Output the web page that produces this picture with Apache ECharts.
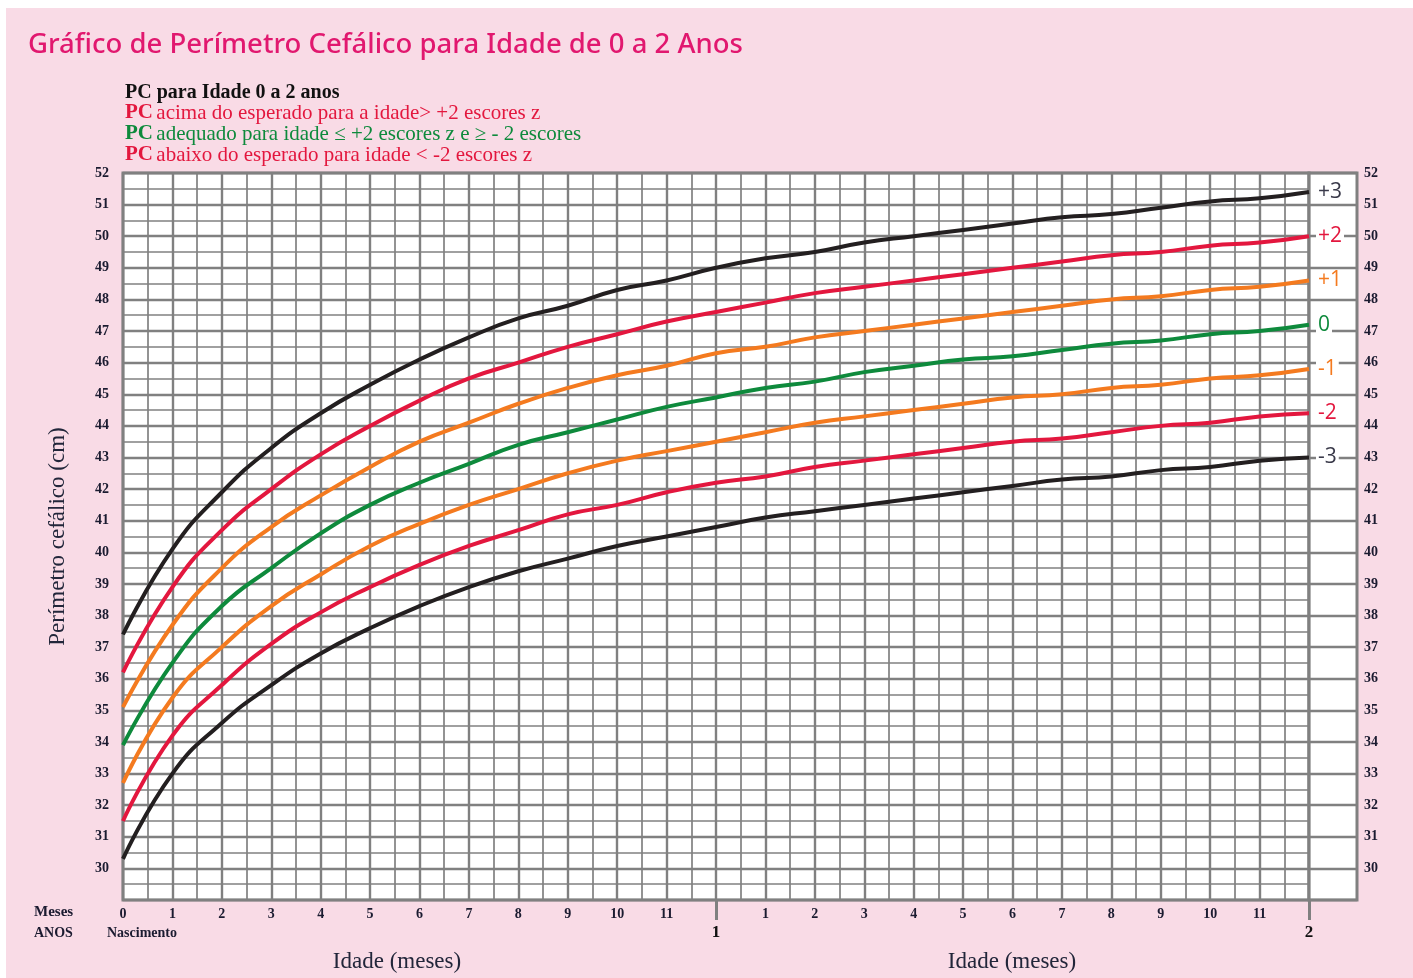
<!DOCTYPE html>
<html>
<head>
<meta charset="utf-8">
<script src="https://cdn.jsdelivr.net/npm/echarts@6/dist/echarts.min.js"></script>
<style>
  html, body { margin: 0; padding: 0; background: #fff; }
  #chart { width: 1413px; height: 978px; }
</style>
</head>
<body>
<div id="chart"></div>
<script>
// idade em meses (0 a 24)
let meses = [0, 1, 2, 3, 4, 5, 6, 7, 8, 9, 10, 11, 12, 13, 14, 15, 16, 17, 18, 19, 20, 21, 22, 23, 24];

// perímetro cefálico (cm) por escore z
let zMais3  = [37.4, 40.1, 41.9, 43.3, 44.4, 45.3, 46.1, 46.8, 47.4, 47.8, 48.3, 48.6, 49.0, 49.3, 49.5, 49.8, 50.0, 50.2, 50.4, 50.6, 50.7, 50.9, 51.1, 51.2, 51.4];
let zMais2  = [36.2, 38.9, 40.7, 42.0, 43.1, 44.0, 44.8, 45.5, 46.0, 46.5, 46.9, 47.3, 47.6, 47.9, 48.2, 48.4, 48.6, 48.8, 49.0, 49.2, 49.4, 49.5, 49.7, 49.8, 50.0];
let zMais1  = [35.1, 37.7, 39.5, 40.8, 41.8, 42.7, 43.5, 44.1, 44.7, 45.2, 45.6, 45.9, 46.3, 46.5, 46.8, 47.0, 47.2, 47.4, 47.6, 47.8, 48.0, 48.1, 48.3, 48.4, 48.6];
let zZero   = [33.9, 36.5, 38.3, 39.5, 40.6, 41.5, 42.2, 42.8, 43.4, 43.8, 44.2, 44.6, 44.9, 45.2, 45.4, 45.7, 45.9, 46.1, 46.2, 46.4, 46.6, 46.7, 46.9, 47.0, 47.2];
let zMenos1 = [32.7, 35.4, 37.0, 38.3, 39.3, 40.2, 40.9, 41.5, 42.0, 42.5, 42.9, 43.2, 43.5, 43.8, 44.1, 44.3, 44.5, 44.7, 44.9, 45.0, 45.2, 45.3, 45.5, 45.6, 45.8];
let zMenos2 = [31.5, 34.2, 35.8, 37.1, 38.1, 38.9, 39.6, 40.2, 40.7, 41.2, 41.5, 41.9, 42.2, 42.4, 42.7, 42.9, 43.1, 43.3, 43.5, 43.6, 43.8, 44.0, 44.1, 44.3, 44.4];
let zMenos3 = [30.3, 33.0, 34.6, 35.8, 36.8, 37.6, 38.3, 38.9, 39.4, 39.8, 40.2, 40.5, 40.8, 41.1, 41.3, 41.5, 41.7, 41.9, 42.1, 42.3, 42.4, 42.6, 42.7, 42.9, 43.0];

let curvas = [
    { nome: '+3', valores: zMais3, cor: '#231f20', corLabel: '#3a3a4a' },
    { nome: '+2', valores: zMais2, cor: '#e3173e', corLabel: '#e3173e' },
    { nome: '+1', valores: zMais1, cor: '#f47a1f', corLabel: '#f47a1f' },
    { nome: '0',  valores: zZero,  cor: '#0e8a3c', corLabel: '#0e8a3c' },
    { nome: '-1', valores: zMenos1, cor: '#f47a1f', corLabel: '#f47a1f' },
    { nome: '-2', valores: zMenos2, cor: '#e3173e', corLabel: '#e3173e' },
    { nome: '-3', valores: zMenos3, cor: '#231f20', corLabel: '#3a3a4a' }
];

let serif = '"Liberation Serif", "DejaVu Serif", serif';
let corTexto = '#1b1b30';
let corGrade = '#808080';

let myChart = echarts.init(document.getElementById('chart'));

let seriesObj = curvas.map(function (c) {
    return {
        name: c.nome,
        type: 'line',
        xAxisIndex: 0,
        yAxisIndex: 0,
        smooth: 0.5,
        symbol: 'none',
        silent: true,
        z: 5,
        lineStyle: { color: c.cor, width: 4 },
        endLabel: {
            show: true,
            formatter: c.nome,
            distance: 7,
            color: c.corLabel,
            fontFamily: '"Open Sans", sans-serif',
            fontSize: 21,
            backgroundColor: '#fff',
            padding: [0, 2]
        },
        data: meses.map(function (m, i) { return [m, c.valores[i]]; })
    };
});

function legenda(y, cor, texto) {
    return {
        type: 'text',
        x: 125,
        y: y,
        style: {
            text: '{p|PC} {t|' + texto + '}',
            verticalAlign: 'middle',
            rich: {
                p: { fontFamily: serif, fontSize: 21, fontWeight: 'bold', fill: cor },
                t: { fontFamily: serif, fontSize: 21, fill: cor }
            }
        }
    };
}

let option = {
    backgroundColor: 'transparent',
    animation: false,
    graphic: [
        { type: 'rect', z: -100, shape: { x: 6, y: 8, width: 1407, height: 970 }, style: { fill: '#f9dbe6' } },
        {
            type: 'text', x: 28, y: 45,
            style: { text: 'Gráfico de Perímetro Cefálico para Idade de 0 a 2 Anos', fill: '#e1186f',
                font: '500 27.5px "Noto Sans", sans-serif', verticalAlign: 'middle' }
        },
        {
            type: 'text', x: 125, y: 93,
            style: { text: 'PC para Idade 0 a 2 anos', fill: '#111', font: 'bold 20px ' + serif, verticalAlign: 'middle' }
        },
        legenda(113, '#e3173e', 'acima do esperado para a idade> +2 escores z'),
        legenda(134, '#0e8a3c', 'adequado para idade ≤ +2 escores z e ≥ - 2 escores'),
        legenda(155, '#e3173e', 'abaixo do esperado para idade < -2 escores z'),
        {
            type: 'text', x: 34, y: 912,
            style: { text: 'Meses', fill: corTexto, font: 'bold 15px ' + serif, verticalAlign: 'middle' }
        },
        {
            type: 'text', x: 34, y: 933,
            style: { text: 'ANOS', fill: corTexto, font: 'bold 14px ' + serif, verticalAlign: 'middle' }
        },
        {
            type: 'text', x: 107, y: 933,
            style: { text: 'Nascimento', fill: corTexto, font: 'bold 14px ' + serif, verticalAlign: 'middle' }
        },
        {
            type: 'text', x: 397, y: 962,
            style: { text: 'Idade (meses)', fill: '#22263a', font: '23px ' + serif, align: 'center', verticalAlign: 'middle' }
        },
        {
            type: 'text', x: 1012, y: 962,
            style: { text: 'Idade (meses)', fill: '#22263a', font: '23px ' + serif, align: 'center', verticalAlign: 'middle' }
        }
    ],
    grid: [
        { left: 123, top: 173, width: 1186, height: 727, show: true, backgroundColor: '#fff',
          borderColor: corGrade, borderWidth: 3 },
        { left: 1309, top: 173, width: 48, height: 727, show: true, backgroundColor: '#fff',
          borderColor: corGrade, borderWidth: 3 }
    ],
    xAxis: [
        {
            gridIndex: 0, type: 'value', min: 0, max: 24, interval: 1, position: 'bottom',
            axisLine: { show: false },
            axisTick: { show: false },
            minorTick: { show: true, splitNumber: 2, length: 0 },
            splitLine: { show: true, lineStyle: { color: corGrade, width: 2.4 } },
            minorSplitLine: { show: true, lineStyle: { color: corGrade, width: 1.7 } },
            axisLabel: {
                margin: 7, color: corTexto, fontFamily: serif, fontWeight: 'bold', fontSize: 14,
                formatter: function (v) { return (v === 12 || v === 24) ? '' : String(v % 12); }
            }
        },
        {
            gridIndex: 0, type: 'value', min: 0, max: 24, position: 'bottom',
            axisLine: { show: false },
            splitLine: { show: false },
            axisTick: { show: true, customValues: [12, 24], length: 20, lineStyle: { color: corGrade, width: 3 } },
            axisLabel: {
                customValues: [12, 24], margin: 24, color: '#111', fontFamily: serif, fontWeight: 'bold', fontSize: 17,
                formatter: function (v) { return String(v / 12); }
            }
        },
        { gridIndex: 1, type: 'value', min: 0, max: 1, show: false }
    ],
    yAxis: [
        {
            gridIndex: 0, type: 'value', min: 29, max: 52, interval: 1,
            name: 'Perímetro cefálico (cm)', nameLocation: 'middle', nameGap: 54,
            nameTextStyle: { fontFamily: serif, fontSize: 23, color: '#22263a' },
            axisLine: { show: false },
            axisTick: { show: false },
            minorTick: { show: true, splitNumber: 2, length: 0 },
            splitLine: { show: true, lineStyle: { color: corGrade, width: 2.4 } },
            minorSplitLine: { show: true, lineStyle: { color: corGrade, width: 1.7 } },
            axisLabel: {
                margin: 14, color: corTexto, fontFamily: serif, fontWeight: 'bold', fontSize: 14,
                formatter: function (v) { return v >= 30 ? String(v) : ''; }
            }
        },
        {
            gridIndex: 1, type: 'value', min: 29, max: 52, interval: 1, position: 'right',
            axisLine: { show: false },
            axisTick: { show: true, length: 7, lineStyle: { color: corGrade, width: 2 } },
            splitLine: { show: true, lineStyle: { color: corGrade, width: 2.4 } },
            axisLabel: {
                margin: 7, color: corTexto, fontFamily: serif, fontWeight: 'bold', fontSize: 14,
                formatter: function (v) { return v >= 30 ? String(v) : ''; }
            }
        }
    ],
    series: seriesObj
};

myChart.setOption(option);
</script>
</body>
</html>
